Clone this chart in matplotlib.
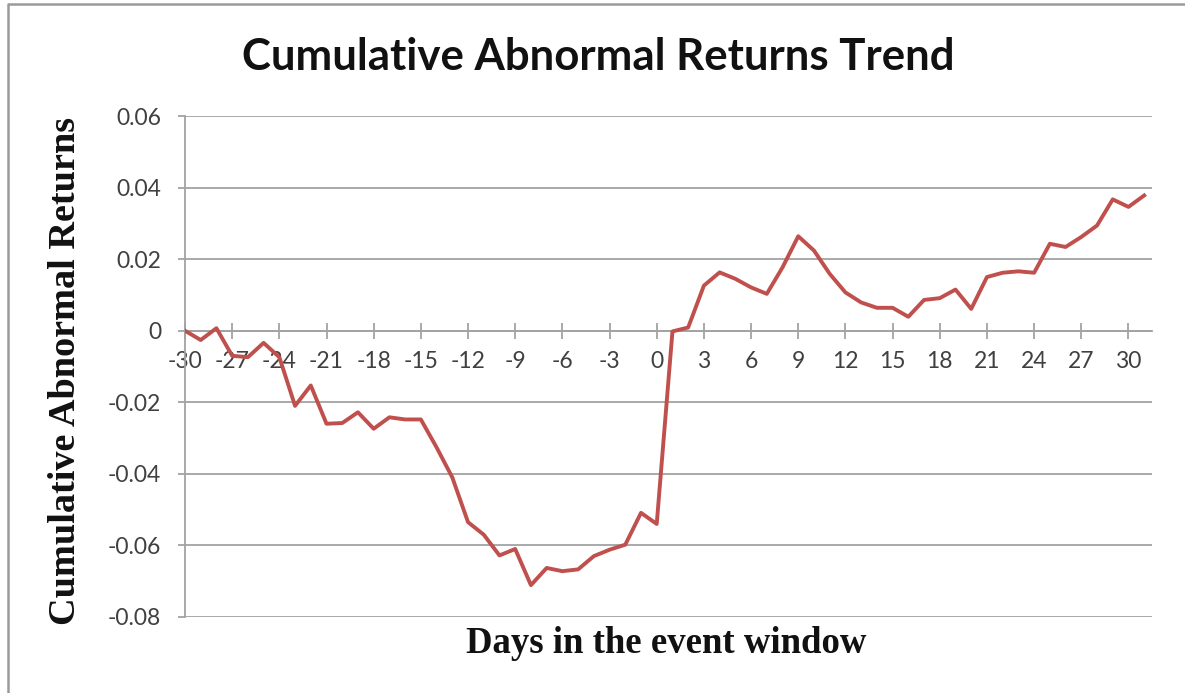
import matplotlib
matplotlib.use("Agg")
import matplotlib.pyplot as plt
from matplotlib.lines import Line2D

# event window days and cumulative abnormal returns
days = list(range(-30, 32))
car = [0.0, -0.0026, 0.0007, -0.0070, -0.0074, -0.0034, -0.0074, -0.0210,
       -0.0153, -0.0260, -0.0258, -0.0228, -0.0274, -0.0242, -0.0248, -0.0248,
       -0.0326, -0.0410, -0.0535, -0.0570, -0.0628, -0.0610, -0.0711, -0.0663,
       -0.0672, -0.0667, -0.0630, -0.0612, -0.0598, -0.0509, -0.0540,
       -0.0002, 0.0009, 0.0126, 0.0163, 0.0145, 0.0121, 0.0103, 0.0177,
       0.0264, 0.0224, 0.0159, 0.0107, 0.0079, 0.0064, 0.0064, 0.0039,
       0.0086, 0.0091, 0.0115, 0.0061, 0.0150, 0.0162, 0.0166, 0.0162,
       0.0243, 0.0234, 0.0262, 0.0294, 0.0367, 0.0346, 0.0378]

x_ticks = [-30, -27, -24, -21, -18, -15, -12, -9, -6, -3, 0, 3, 6, 9, 12, 15, 18, 21, 24, 27, 30]
y_ticks = [0.06, 0.04, 0.02, 0, -0.02, -0.04, -0.06, -0.08]
y_labels = ["0.06", "0.04", "0.02", "0", "-0.02", "-0.04", "-0.06", "-0.08"]

grey = "#a3a3a3"

fig = plt.figure(figsize=(11.85, 6.93), dpi=100)
ax = fig.add_axes([0.1561, 0.1097, 0.8161, 0.7229])

ax.plot(days, car, color="#c0504d", lw=2.8, solid_joinstyle="round", zorder=3)

ax.set_xlim(-30, 31.5)
ax.set_ylim(-0.08, 0.06)

# spine move resets tick labels, so do it first
for s in ["top", "right"]:
    ax.spines[s].set_visible(False)
ax.spines["bottom"].set_position(("data", 0))
ax.spines["bottom"].set_color(grey)
ax.spines["bottom"].set_linewidth(1.3)
ax.spines["left"].set_color(grey)
ax.spines["left"].set_linewidth(1.3)

ax.set_yticks(y_ticks)
ax.set_yticklabels(y_labels, fontfamily="Lato", fontsize=16.5, color="#404040")
ax.set_xticks(x_ticks)
ax.set_xticklabels([str(t) for t in x_ticks], fontfamily="Lato", fontsize=16.5, color="#404040")

ax.yaxis.grid(True, color=grey, lw=1.3)
ax.set_axisbelow(True)

ax.tick_params(axis="x", direction="inout", length=11, width=1.3, color=grey, pad=9)
ax.tick_params(axis="y", direction="out", length=5, width=1.3, color=grey, pad=12)

fig.text(0.505, 0.918, "Cumulative Abnormal Returns Trend", fontfamily="Lato",
         fontweight="bold", fontsize=31.5, ha="center", va="center", color="#111111")
fig.text(0.562, 0.072, "Days in the event window", fontfamily="Liberation Serif",
         fontweight="bold", fontsize=26.5, ha="center", va="center", color="#111111")
fig.text(0.055, 0.465, "Cumulative Abnormal Returns", fontfamily="Liberation Serif",
         fontweight="bold", fontsize=27.5, ha="center", va="center", rotation=90, color="#111111")

# outer chart border (only left and top show in the crop)
fig.add_artist(Line2D([8 / 1185, 8 / 1185, 1], [0, 1 - 4 / 693, 1 - 4 / 693],
                      transform=fig.transFigure, color="#9a9a9a", lw=1.8))

fig.savefig("out.png", dpi=100)
